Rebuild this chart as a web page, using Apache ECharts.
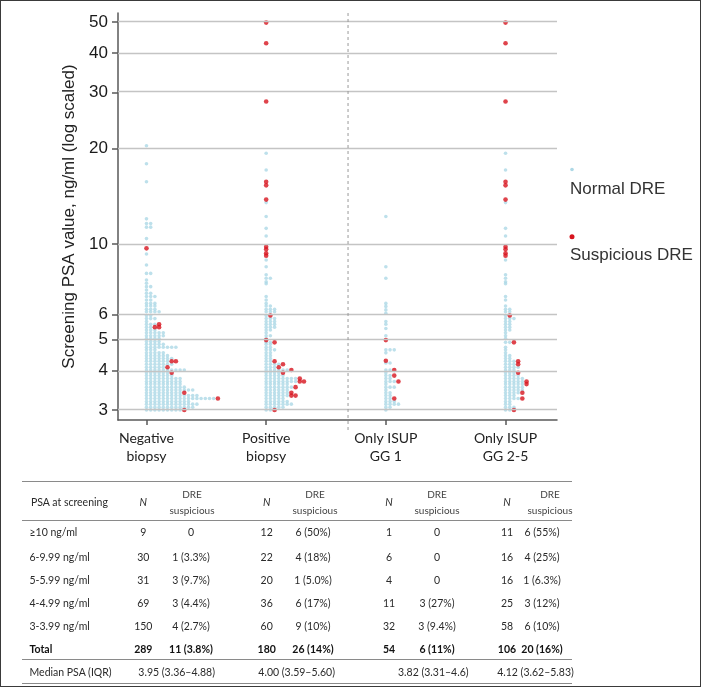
<!DOCTYPE html>
<html>
<head>
<meta charset="utf-8">
<script src="https://cdn.jsdelivr.net/npm/echarts@6/dist/echarts.min.js"></script>
<style>
html, body { margin: 0; padding: 0; background: #fff; }
#page { position: relative; width: 702px; height: 688px; overflow: hidden; }
#main { position: absolute; left: 0; top: 0; width: 702px; height: 688px; }
#frame { position: absolute; left: 0; top: 0; width: 701px; height: 687px; box-sizing: border-box; border: 1px solid #3a3a3a; pointer-events: none; }
.cell { position: absolute; font-family: Lato, 'Noto Sans', sans-serif; font-size: 10.5px; color: #2a2a2a; line-height: 14px; white-space: nowrap; }
.rule { position: absolute; left: 22px; width: 550px; height: 0; border-top: 1.5px solid #8a8a8a; }
</style>
</head>
<body>
<div id="page">
  <div id="main"></div>
  <div id="table"></div>
  <div id="frame"></div>
</div>
<script>
// categories
var groupLabels = ['Negative\nbiopsy', 'Positive\nbiopsy', 'Only ISUP\nGG 1', 'Only ISUP\nGG 2-5'];
var yTicks = [3, 4, 5, 6, 10, 20, 30, 40, 50];

// dot rows per group: [PSA, dots in row, of which suspicious DRE]
var negRows = [
  [3.00,10,1],[3.06,12,0],[3.13,13,0],[3.19,11,0],[3.26,18,1],[3.33,13,0],[3.40,10,1],[3.47,12,0],[3.54,10,0],[3.62,9,0],[3.69,9,0],[3.77,9,0],[3.85,7,0],[3.93,7,1],
  [4.01,10,0],[4.09,6,1],[4.18,7,0],[4.27,8,2],[4.36,7,0],[4.45,6,0],[4.54,5,0],[4.64,3,0],[4.73,8,0],[4.83,5,0],[4.93,4,0],
  [5.04,4,0],[5.14,5,0],[5.25,5,0],[5.36,3,0],[5.47,4,2],[5.59,4,1],[5.70,1,0],[5.82,3,0],[5.95,2,0],
  [6.12,4,0],[6.23,3,0],[6.38,3,0],[6.50,3,0],[6.66,2,0],[6.83,3,0],[6.99,2,0],[7.16,1,0],[7.34,2,0],[7.52,1,0],[7.70,1,0],[8.08,2,0],[8.59,1,0],[9.30,1,0],[9.69,1,1],
  [10.4,1,0],[11.3,2,0],[11.6,2,0],[12.0,1,0],[15.7,1,0],[17.9,1,0],[20.4,1,0]
];
var posRows = [
  [3.00,3,1],[3.06,5,0],[3.13,7,0],[3.19,6,0],[3.26,5,0],[3.33,8,2],[3.40,7,1],[3.47,6,0],[3.54,8,1],[3.62,6,0],[3.69,10,2],[3.77,9,1],[3.85,5,0],[3.93,5,1],
  [4.01,7,1],[4.09,4,1],[4.18,5,1],[4.27,3,1],[4.36,2,0],[4.45,2,0],[4.54,2,0],[4.64,3,0],[4.73,2,0],[4.83,2,0],[4.90,3,1],[4.98,1,1],
  [5.04,1,0],[5.14,2,0],[5.25,1,0],[5.36,2,0],[5.47,3,0],[5.59,3,0],[5.70,3,0],[5.82,3,0],[5.95,2,1],
  [6.12,3,0],[6.23,3,0],[6.38,2,0],[6.50,1,0],[6.66,1,0],[6.83,1,0],[7.5,1,0],[7.6,1,0],[7.8,2,0],[8.0,1,0],[8.48,1,0],[8.9,1,0],[9.19,1,1],[9.35,1,1],[9.62,1,1],[9.80,1,1],
  [10.6,1,0],[11.2,1,0],[12.2,1,0],[13.5,1,0],[13.8,1,1],[15.3,1,1],[15.7,1,1],[17.1,1,0],[19.3,1,0],[28.1,1,1],[42.9,1,1],[49.8,1,1]
];
var gg1Rows = [
  [3.00,1,0],[3.06,2,0],[3.13,4,0],[3.19,3,0],[3.26,3,1],[3.33,2,0],[3.40,2,0],[3.47,1,0],[3.54,3,0],[3.62,1,0],[3.69,4,1],[3.77,2,0],[3.85,3,1],[3.93,1,0],
  [4.01,3,1],[4.22,2,0],[4.29,1,1],[4.54,1,0],[4.64,3,0],[4.98,1,1],
  [5.14,1,0],[5.42,1,0],[5.59,1,0],[5.70,1,0],
  [6.05,1,0],[6.20,1,0],[6.36,1,0],[6.50,1,0],[7.8,1,0],[8.48,1,0],
  [12.2,1,0]
];
var gg25Rows = [
  [3.00,3,1],[3.06,3,0],[3.13,2,0],[3.19,2,0],[3.26,5,1],[3.33,3,0],[3.40,5,1],[3.47,5,0],[3.54,5,0],[3.62,6,1],[3.69,6,1],[3.77,5,0],[3.85,4,0],[3.93,4,1],
  [4.01,3,0],[4.09,4,0],[4.18,4,1],[4.27,4,1],[4.36,2,0],[4.45,2,0],[4.54,1,0],[4.64,1,0],[4.73,1,0],[4.90,3,1],
  [5.04,1,0],[5.14,1,0],[5.25,1,0],[5.36,2,0],[5.47,2,0],[5.59,2,0],[5.70,2,0],[5.82,3,0],[5.95,2,1],
  [6.12,2,0],[6.23,2,0],[6.38,1,0],[6.66,1,0],[6.83,1,0],[7.5,1,0],[7.6,1,0],[7.8,1,0],[8.0,1,0],[8.9,1,0],[9.19,1,1],[9.35,1,1],[9.62,1,1],[9.80,1,1],
  [10.6,1,0],[11.2,1,0],[13.5,1,0],[13.8,1,1],[15.3,1,1],[15.7,1,1],[17.1,1,0],[19.3,1,0],[28.1,1,1],[42.9,1,1],[49.8,1,1]
];

// table
var psaBands = ['≥10 ng/ml', '6-9.99 ng/ml', '5-5.99 ng/ml', '4-4.99 ng/ml', '3-3.99 ng/ml', 'Total'];
var nNeg = ['9', '30', '31', '69', '150', '289'];
var dreNeg = ['0', '1 (3.3%)', '3 (9.7%)', '3 (4.4%)', '4 (2.7%)', '11 (3.8%)'];
var nPos = ['12', '22', '20', '36', '60', '180'];
var drePos = ['6 (50%)', '4 (18%)', '1 (5.0%)', '6 (17%)', '9 (10%)', '26 (14%)'];
var nGG1 = ['1', '6', '4', '11', '32', '54'];
var dreGG1 = ['0', '0', '0', '3 (27%)', '3 (9.4%)', '6 (11%)'];
var nGG25 = ['11', '16', '16', '25', '58', '106'];
var dreGG25 = ['6 (55%)', '4 (25%)', '1 (6.3%)', '3 (12%)', '6 (10%)', '20 (16%)'];
var medianPsa = ['3.95 (3.36\u20134.88)', '4.00 (3.59\u20135.60)', '3.82 (3.31\u20134.6)', '4.12 (3.62\u20135.83)'];

var STEP = 0.0351;      // horizontal gap between stacked dots (category units)
var separatorAt = 1.684; // dashed divider between biopsy outcome and ISUP groups
var BLUE = '#add8e6', RED = '#d7141e';

var normalPts = [], suspPts = [];
[negRows, posRows, gg1Rows, gg25Rows].forEach(function (rows, g) {
  rows.forEach(function (r) {
    for (var k = 0; k < r[1]; k++) {
      var p = [g + k * STEP, Math.log10(r[0])];
      if (k >= r[1] - r[2]) suspPts.push(p); else normalPts.push(p);
    }
  });
});

var tickLog = yTicks.map(function (v) { return Math.log10(v); });
var axisColor = '#595959';

var myChart = echarts.init(document.getElementById('main'));
var option = {
  animation: false,
  grid: { left: 118, right: 145, top: 13, bottom: 268, outerBoundsMode: 'none' },
  xAxis: {
    type: 'value', min: -0.238, max: 3.43,
    splitLine: { show: false },
    axisLine: { show: true, onZero: false, lineStyle: { color: axisColor, width: 1.5 } },
    axisTick: { show: true, customValues: [0, 1, 2, 3], length: 5, lineStyle: { color: axisColor, width: 1.5 } },
    axisLabel: {
      customValues: [0, 1, 2, 3],
      formatter: function (v) { return groupLabels[Math.round(v)]; },
      fontFamily: 'Lato', fontSize: 14, lineHeight: 18, color: '#222', margin: 9
    }
  },
  yAxis: {
    type: 'value', min: Math.log10(2.79), max: Math.log10(53.4),
    name: 'Screening PSA value, ng/ml (log scaled)',
    nameLocation: 'middle', nameGap: 39, nameRotate: 90,
    nameTextStyle: { fontFamily: 'Liberation Sans', fontSize: 17, color: '#222' },
    splitLine: { show: false },
    axisLine: { show: true, onZero: false, lineStyle: { color: axisColor, width: 1.5 } },
    axisTick: { show: true, customValues: tickLog, length: 6, lineStyle: { color: axisColor, width: 1.5 } },
    axisLabel: {
      customValues: tickLog,
      formatter: function (v) { return String(Math.round(Math.pow(10, v))); },
      fontFamily: 'Liberation Sans', fontSize: 17, color: '#1a1a1a', margin: 10
    }
  },
  series: [
    {
      name: 'Normal DRE', type: 'scatter', data: normalPts, z: 3,
      symbol: 'circle', symbolSize: 3.6, silent: true,
      itemStyle: { color: BLUE },
      markLine: {
        silent: true, symbol: ['none', 'none'], label: { show: false }, animation: false,
        lineStyle: { color: '#c4c4c4', width: 1.4, type: 'solid' },
        emphasis: { disabled: true },
        data: tickLog.map(function (v) { return { yAxis: v }; })
      }
    },
    {
      name: 'Suspicious DRE', type: 'scatter', data: suspPts, z: 4,
      symbol: 'circle', symbolSize: 4.6, silent: true,
      itemStyle: { color: RED }
    }
  ]
};
myChart.setOption(option);

var sepX = myChart.convertToPixel({ xAxisIndex: 0 }, separatorAt);
myChart.setOption({
  graphic: [
    { type: 'line', silent: true, z: 5, shape: { x1: sepX, y1: 13, x2: sepX, y2: 432 },
      style: { stroke: '#9a9a9a', lineWidth: 1, lineDash: [3, 3] } },
    { type: 'circle', silent: true, shape: { cx: 572, cy: 169.5, r: 1.8 }, style: { fill: BLUE } },
    { type: 'text', silent: true, style: { text: 'Normal DRE', x: 570, y: 189.5, verticalAlign: 'middle',
      fontFamily: 'Liberation Sans', fontSize: 17, fill: '#333' } },
    { type: 'circle', silent: true, shape: { cx: 572, cy: 236.7, r: 2.5 }, style: { fill: RED } },
    { type: 'text', silent: true, style: { text: 'Suspicious DRE', x: 570, y: 255, verticalAlign: 'middle',
      fontFamily: 'Liberation Sans', fontSize: 17, fill: '#333' } }
  ]
});

// table below the chart
var tbl = document.getElementById('table');
function put(text, x, y, centered, extra) {
  var d = document.createElement('div');
  d.className = 'cell';
  d.textContent = text;
  if (centered) { d.style.left = (x - 60) + 'px'; d.style.width = '120px'; d.style.textAlign = 'center'; }
  else d.style.left = x + 'px';
  d.style.top = (y - 7) + 'px';
  if (extra) Object.keys(extra).forEach(function (k) { d.style[k] = extra[k]; });
  tbl.appendChild(d);
}
function rule(y) {
  var d = document.createElement('div');
  d.className = 'rule';
  d.style.top = (y - 0.75) + 'px';
  tbl.appendChild(d);
}
var nX = [143.3, 266.7, 389, 507];
var dreX = [191, 313, 437, 542];
var dreHeadX = [192, 315, 437, 550];
var rowY = [532.3, 557.3, 580.3, 603.3, 625.7, 649.3];
var medX = [176.7, 296.7, 433.3, 535.5];
var nCols = [nNeg, nPos, nGG1, nGG25];
var dreCols = [dreNeg, drePos, dreGG1, dreGG25];

rule(481.7); rule(520.7); rule(660); rule(683.3);
put('PSA at screening', 31, 502.3);
for (var g = 0; g < 4; g++) {
  put('N', nX[g], 502.3, true, { fontStyle: 'italic' });
  put('DRE', dreHeadX[g], 494.3, true, { fontSize: '10px', color: '#444' });
  put('suspicious', dreHeadX[g], 510, true, { fontSize: '10px', color: '#444' });
}
psaBands.forEach(function (lab, r) {
  var st = r === psaBands.length - 1 ? { fontWeight: 'bold', color: '#111' } : null;
  put(lab, 29.5, rowY[r], false, st);
  for (var g = 0; g < 4; g++) {
    put(nCols[g][r], nX[g], rowY[r], true, st);
    put(dreCols[g][r], dreX[g], rowY[r], true, st);
  }
});
put('Median PSA (IQR)', 29.5, 671.7);
medianPsa.forEach(function (m, g) { put(m, medX[g], 671.7, true); });
</script>
</body>
</html>
